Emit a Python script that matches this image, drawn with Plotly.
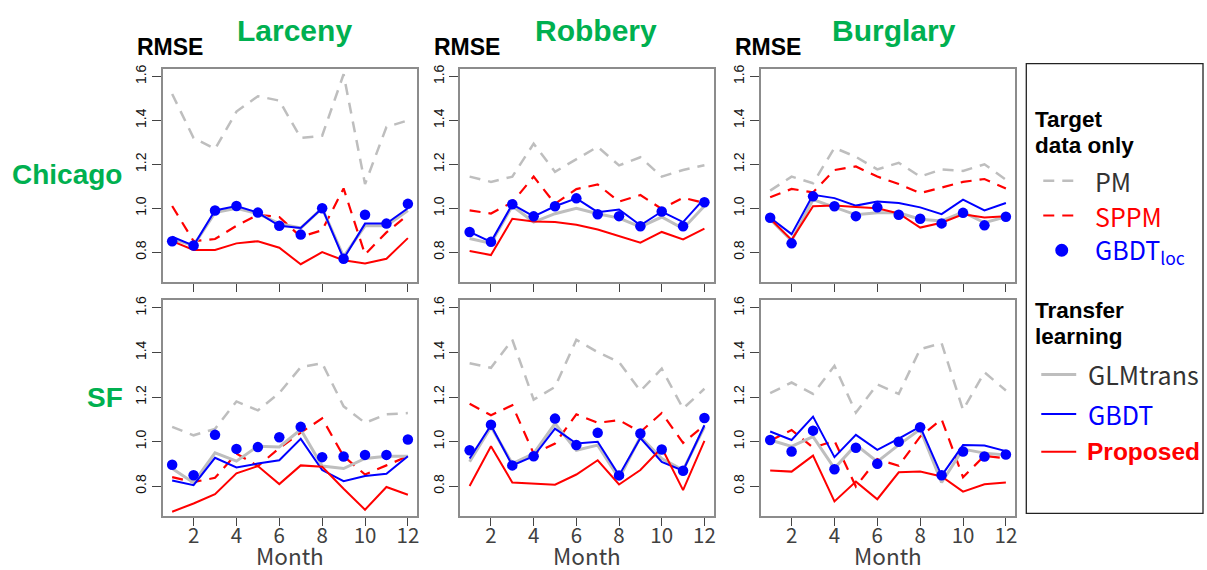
import plotly.graph_objects as go

months = list(range(1, 13))
crimes = ["Larceny", "Robbery", "Burglary"]
cities = ["Chicago", "SF"]
y_ticks = [0.8, 1.0, 1.2, 1.4, 1.6]
y_ticktext = ["0.8", "1.0", "1.2", "1.4", "1.6"]
x_ticks = [2, 4, 6, 8, 10, 12]

# Chicago - Larceny
chi_lar_pm = [1.52, 1.32, 1.27, 1.44, 1.51, 1.49, 1.32, 1.33, 1.61, 1.11, 1.37, 1.40]
chi_lar_sppm = [1.01, 0.85, 0.86, 0.92, 0.97, 0.96, 0.87, 0.90, 1.09, 0.79, 0.89, 0.97]
chi_lar_loc = [0.85, 0.83, 0.99, 1.01, 0.98, 0.92, 0.88, 1.00, 0.77, 0.97, 0.93, 1.02]
chi_lar_glm = [0.86, 0.83, 0.98, 1.00, 0.975, 0.93, 0.91, 1.00, 0.78, 0.92, 0.92, 0.99]
chi_lar_gbdt = [0.87, 0.83, 0.99, 1.01, 0.98, 0.92, 0.91, 1.00, 0.77, 0.93, 0.93, 1.00]
chi_lar_prop = [0.85, 0.81, 0.81, 0.84, 0.85, 0.82, 0.745, 0.80, 0.763, 0.748, 0.77, 0.864]

# Chicago - Robbery
chi_rob_pm = [1.144, 1.12, 1.144, 1.294, 1.166, 1.225, 1.28, 1.195, 1.232, 1.144, 1.174, 1.196]
chi_rob_sppm = [0.99, 0.976, 1.027, 1.144, 1.02, 1.087, 1.108, 1.03, 1.06, 0.997, 1.048, 1.024]
chi_rob_loc = [0.892, 0.847, 1.018, 0.963, 1.009, 1.045, 0.973, 0.964, 0.918, 0.985, 0.918, 1.027]
chi_rob_glm = [0.862, 0.84, 1.01, 0.937, 0.975, 1.0, 0.975, 0.955, 0.915, 0.96, 0.907, 1.01]
chi_rob_gbdt = [0.892, 0.847, 1.018, 0.963, 1.009, 1.045, 0.982, 0.994, 0.922, 0.985, 0.937, 1.045]
chi_rob_prop = [0.805, 0.787, 0.952, 0.94, 0.937, 0.925, 0.903, 0.873, 0.843, 0.892, 0.858, 0.907]

# Chicago - Burglary
chi_bur_pm = [1.08, 1.144, 1.114, 1.275, 1.234, 1.177, 1.207, 1.144, 1.177, 1.17, 1.2, 1.13]
chi_bur_sppm = [1.05, 1.088, 1.072, 1.174, 1.19, 1.144, 1.11, 1.069, 1.094, 1.12, 1.133, 1.09]
chi_bur_loc = [0.957, 0.84, 1.054, 1.009, 0.964, 1.004, 0.97, 0.952, 0.931, 0.979, 0.922, 0.961]
chi_bur_glm = [0.95, 0.852, 1.039, 1.006, 0.97, 0.979, 0.979, 0.95, 0.942, 0.982, 0.934, 0.961]
chi_bur_gbdt = [0.957, 0.882, 1.061, 1.046, 1.012, 1.031, 1.024, 1.004, 0.973, 1.039, 0.99, 1.024]
chi_bur_prop = [0.952, 0.856, 1.009, 1.012, 1.006, 1.0, 0.976, 0.912, 0.934, 0.972, 0.958, 0.964]

# SF - Larceny
sf_lar_pm = [1.066, 1.028, 1.057, 1.18, 1.14, 1.218, 1.334, 1.352, 1.158, 1.084, 1.122, 1.128]
sf_lar_sppm = [0.84, 0.818, 0.837, 0.946, 0.89, 0.97, 1.04, 1.104, 0.934, 0.852, 0.893, 0.934]
sf_lar_loc = [0.896, 0.849, 1.03, 0.967, 0.975, 1.019, 1.066, 0.93, 0.933, 0.94, 0.94, 1.009]
sf_lar_glm = [0.879, 0.815, 0.949, 0.912, 0.979, 0.976, 1.054, 0.89, 0.879, 0.924, 0.934, 0.934]
sf_lar_gbdt = [0.825, 0.804, 0.927, 0.884, 0.901, 0.916, 1.012, 0.872, 0.822, 0.845, 0.855, 0.934]
sf_lar_prop = [0.685, 0.722, 0.764, 0.857, 0.89, 0.809, 0.893, 0.887, 0.788, 0.694, 0.796, 0.761]

# SF - Robbery
sf_rob_pm = [1.352, 1.331, 1.457, 1.188, 1.245, 1.457, 1.401, 1.357, 1.227, 1.327, 1.148, 1.237]
sf_rob_sppm = [1.17, 1.118, 1.163, 0.946, 0.991, 1.122, 1.084, 1.096, 1.043, 1.128, 0.994, 1.073]
sf_rob_loc = [0.961, 1.076, 0.893, 0.934, 1.103, 0.984, 1.039, 0.848, 1.036, 0.964, 0.869, 1.106]
sf_rob_glm = [0.909, 1.066, 0.901, 0.946, 1.081, 0.961, 0.984, 0.834, 1.021, 0.924, 0.872, 1.066]
sf_rob_gbdt = [0.924, 1.073, 0.893, 0.934, 1.058, 0.991, 0.999, 0.848, 1.016, 0.909, 0.869, 1.073]
sf_rob_prop = [0.80, 0.979, 0.816, 0.812, 0.806, 0.852, 0.916, 0.807, 0.872, 0.972, 0.782, 1.003]

# SF - Burglary
sf_bur_pm = [1.217, 1.265, 1.214, 1.34, 1.13, 1.257, 1.214, 1.415, 1.442, 1.142, 1.311, 1.229]
sf_bur_sppm = [1.004, 1.052, 0.973, 1.003, 0.798, 0.921, 0.891, 1.022, 1.1, 0.84, 0.936, 0.925]
sf_bur_loc = [1.007, 0.955, 1.049, 0.876, 0.972, 0.9, 0.999, 1.064, 0.849, 0.955, 0.933, 0.942]
sf_bur_glm = [1.007, 0.978, 1.022, 0.88, 0.985, 0.91, 0.985, 1.055, 0.816, 0.966, 0.948, 0.94]
sf_bur_gbdt = [1.045, 1.007, 1.112, 0.93, 1.03, 0.963, 1.013, 1.067, 0.847, 0.984, 0.982, 0.957]
sf_bur_prop = [0.87, 0.865, 0.937, 0.731, 0.82, 0.741, 0.862, 0.865, 0.843, 0.775, 0.808, 0.816]

panels = [
    [chi_lar_pm, chi_lar_sppm, chi_lar_glm, chi_lar_gbdt, chi_lar_prop, chi_lar_loc],
    [chi_rob_pm, chi_rob_sppm, chi_rob_glm, chi_rob_gbdt, chi_rob_prop, chi_rob_loc],
    [chi_bur_pm, chi_bur_sppm, chi_bur_glm, chi_bur_gbdt, chi_bur_prop, chi_bur_loc],
    [sf_lar_pm, sf_lar_sppm, sf_lar_glm, sf_lar_gbdt, sf_lar_prop, sf_lar_loc],
    [sf_rob_pm, sf_rob_sppm, sf_rob_glm, sf_rob_gbdt, sf_rob_prop, sf_rob_loc],
    [sf_bur_pm, sf_bur_sppm, sf_bur_glm, sf_bur_gbdt, sf_bur_prop, sf_bur_loc],
]

W, H = 1207, 570
GRAY = "#BEBEBE"
RED = "#FF0000"
BLUE = "#0000FF"
GREEN = "#00B050"
DASH = "11px,8px"
SANS = "Noto Sans CJK JP"
BOLD = "Liberation Sans, Arial"

col_px = [(163, 418), (461, 715), (762, 1017)]
row_px = [(65, 280), (298, 516)]


def px_x(x):
    return x / W


def px_y(y):
    return 1 - y / H


fig = go.Figure()
layout = {}
for i in range(6):
    r, c = divmod(i, 3)
    n = i + 1
    xa = "x" if n == 1 else f"x{n}"
    ya = "y" if n == 1 else f"y{n}"
    pm, sppm, glm, gbdt, prop, loc = panels[i]
    fig.add_trace(go.Scatter(x=months, y=pm, mode="lines", xaxis=xa, yaxis=ya,
                             line=dict(color=GRAY, width=2.5, dash=DASH), showlegend=False))
    fig.add_trace(go.Scatter(x=months, y=sppm, mode="lines", xaxis=xa, yaxis=ya,
                             line=dict(color=RED, width=2.2, dash=DASH), showlegend=False))
    fig.add_trace(go.Scatter(x=months, y=glm, mode="lines", xaxis=xa, yaxis=ya,
                             line=dict(color=GRAY, width=3), showlegend=False))
    fig.add_trace(go.Scatter(x=months, y=gbdt, mode="lines", xaxis=xa, yaxis=ya,
                             line=dict(color=BLUE, width=2), showlegend=False))
    fig.add_trace(go.Scatter(x=months, y=prop, mode="lines", xaxis=xa, yaxis=ya,
                             line=dict(color=RED, width=2), showlegend=False))
    fig.add_trace(go.Scatter(x=months, y=loc, mode="markers", xaxis=xa, yaxis=ya,
                             marker=dict(color=BLUE, size=10.5), showlegend=False))

    x0, x1 = col_px[c]
    y0, y1 = row_px[r]
    kx = "xaxis" if n == 1 else f"xaxis{n}"
    ky = "yaxis" if n == 1 else f"yaxis{n}"
    layout[kx] = dict(
        domain=[px_x(x0), px_x(x1)], anchor=ya, range=[0.56, 12.44],
        tickvals=x_ticks, ticks="outside", ticklen=8, tickwidth=1.2, tickcolor="#444",
        showticklabels=(r == 1), showgrid=False, zeroline=False,
        showline=True, mirror=True, linecolor="#8C8C8C", linewidth=1.5,
        tickfont=dict(family=SANS, size=20.5, color="#404040"),
        ticklabelstandoff=-8,
    )
    layout[ky] = dict(
        domain=[px_y(y1), px_y(y0)], anchor=xa, range=[0.664, 1.636],
        tickvals=y_ticks, ticktext=y_ticktext, tickangle=-90,
        ticks="outside", ticklen=9, tickwidth=1.2, tickcolor="#444",
        showgrid=False, zeroline=False,
        showline=True, mirror=True, linecolor="#8C8C8C", linewidth=1.5,
        tickfont=dict(family=BOLD, size=14, color="#111"),
    )

annotations = []
# Column titles, RMSE labels and month labels
title_cx = [295, 597, 895]
for c in range(3):
    annotations.append(dict(x=px_x(title_cx[c]), y=px_y(27), xref="paper", yref="paper",
                            text=f"<b>{crimes[c]}</b>", showarrow=False,
                            font=dict(family=BOLD, size=30, color=GREEN),
                            xanchor="center", yanchor="middle"))
    annotations.append(dict(x=px_x(col_px[c][0] - 28), y=px_y(43), xref="paper", yref="paper",
                            text="<b>RMSE</b>", showarrow=False,
                            font=dict(family=BOLD, size=23, color="black"),
                            xanchor="left", yanchor="middle"))
    annotations.append(dict(x=px_x((col_px[c][0] + col_px[c][1]) / 2), y=0,
                            xref="paper", yref="paper", text="Month", showarrow=False,
                            font=dict(family=SANS, size=22.5, color="#404040"),
                            xanchor="center", yanchor="bottom", yshift=-3))
# Row labels
annotations.append(dict(x=px_x(67), y=px_y(172), xref="paper", yref="paper",
                        text="<b>Chicago</b>", showarrow=False,
                        font=dict(family=BOLD, size=28, color=GREEN),
                        xanchor="center", yanchor="middle"))
annotations.append(dict(x=px_x(105), y=px_y(396), xref="paper", yref="paper",
                        text="<b>SF</b>", showarrow=False,
                        font=dict(family=BOLD, size=28, color=GREEN),
                        xanchor="center", yanchor="middle"))

# Legend (custom box)
shapes = [dict(type="rect", xref="paper", yref="paper",
               x0=px_x(1028), x1=px_x(1205), y0=px_y(513), y1=px_y(60),
               line=dict(color="#222", width=1.3), fillcolor="rgba(0,0,0,0)")]


def leg_text(x, y, text, color, size, family):
    annotations.append(dict(x=px_x(x), y=px_y(y), xref="paper", yref="paper", text=text,
                            showarrow=False, font=dict(family=family, size=size, color=color),
                            xanchor="left", yanchor="middle"))


leg_text(1035, 116, "<b>Target</b>", "black", 22.5, BOLD)
leg_text(1035, 142, "<b>data only</b>", "black", 22.5, BOLD)
leg_text(1035, 309, "<b>Transfer</b>", "black", 22.5, BOLD)
leg_text(1035, 335, "<b>learning</b>", "black", 22.5, BOLD)

leg_items = [
    (178, "PM", "#333333", GRAY, DASH, 2.5, "line"),
    (213, "SPPM", RED, RED, DASH, 2.2, "line"),
    (248, "GBDT<sub>loc</sub>", BLUE, BLUE, None, 0, "dot"),
    (373, "GLMtrans", "#333333", GRAY, None, 3, "line"),
    (413, "GBDT", BLUE, BLUE, None, 2, "line"),
    (451, "<b>Proposed</b>", RED, RED, None, 2, "line"),
]
for y, label, tcol, lcol, dash, w, kind in leg_items:
    tx = 1095 if kind != "line" or dash else 1088
    if kind == "line":
        x0, x1 = (1045, 1080) if dash else (1043, 1078)
        shapes.append(dict(type="line", xref="paper", yref="paper",
                           x0=px_x(x0), x1=px_x(x1), y0=px_y(y), y1=px_y(y),
                           line=dict(color=lcol, width=w, dash=dash)))
    else:
        shapes.append(dict(type="circle", xref="paper", yref="paper",
                           x0=px_x(1057), x1=px_x(1070), y0=px_y(y + 6.5), y1=px_y(y - 6.5),
                           line=dict(color=lcol, width=0), fillcolor=lcol))
    if label.startswith("<b>"):
        leg_text(tx - 1, y, label, tcol, 24.5, BOLD)
    else:
        leg_text(tx, y, label, tcol, 25, SANS)

fig.update_layout(
    width=W, height=H, margin=dict(l=0, r=0, t=0, b=0),
    paper_bgcolor="white", plot_bgcolor="white",
    annotations=annotations, shapes=shapes, showlegend=False,
    **layout,
)
fig.write_html(
    "out.html",
    config={"displayModeBar": False},
    post_script="document.body.style.margin='0';document.body.style.overflow='hidden';",
)
